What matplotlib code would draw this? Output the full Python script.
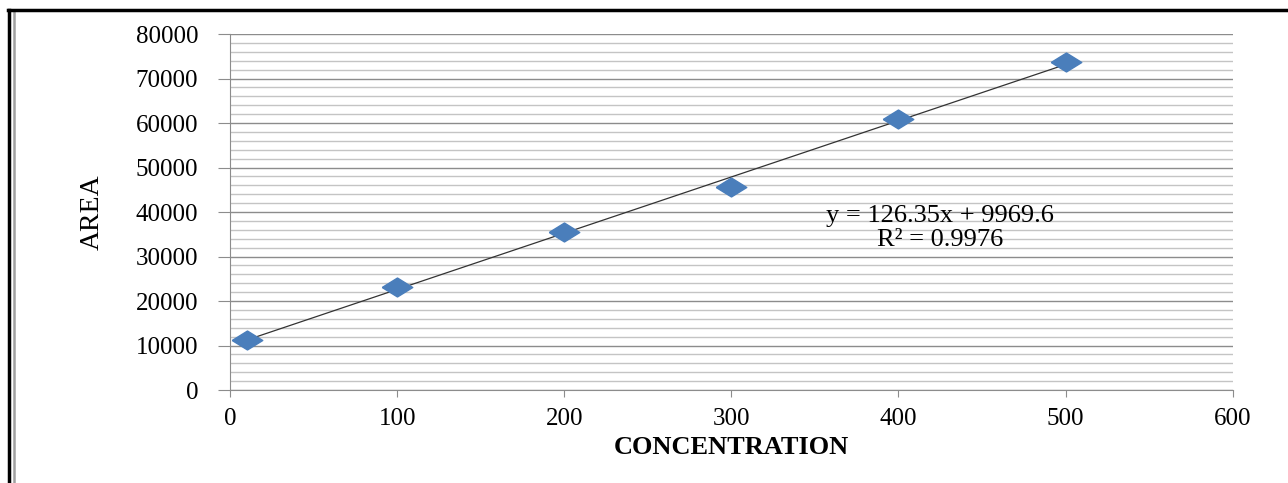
import numpy as np
import matplotlib.pyplot as plt
from matplotlib.lines import Line2D
from matplotlib.ticker import MultipleLocator

# Calibration data
concentration = [10, 100, 200, 300, 400, 500]
area = [11200, 23200, 35600, 45700, 61000, 73600]
slope, intercept = 126.35, 9969.6
equation = "y = 126.35x + 9969.6\nR² = 0.9976"
x_ticks = [0, 100, 200, 300, 400, 500, 600]
y_ticks = [0, 10000, 20000, 30000, 40000, 50000, 60000, 70000, 80000]

plt.rcParams['font.family'] = ['Liberation Serif', 'DejaVu Serif']

fig = plt.figure(figsize=(12.88, 4.83), dpi=100)
ax = fig.add_axes([0.1786, 0.1925, 0.7784, 0.7371])

# trendline
x_fit = np.array([concentration[0], concentration[-1]])
ax.plot(x_fit, slope * x_fit + intercept, color='#333333', lw=0.9, zorder=3)

# wide diamond markers
diamond = [(-1, 0), (0, 0.62), (1, 0), (0, -0.62), (-1, 0)]
ax.plot(concentration, area, linestyle='none', marker=diamond, markersize=22,
        color='#4a7ebb', markeredgecolor='#4a7ebb', zorder=4)

ax.set_xlim(0, 600)
ax.set_ylim(0, 80000)
ax.set_xticks(x_ticks)
ax.set_yticks(y_ticks)
ax.yaxis.set_minor_locator(MultipleLocator(2000))
ax.grid(True, which='major', axis='y', color='#8c8c8c', lw=1.0)
ax.grid(True, which='minor', axis='y', color='#c4c4c4', lw=1.0)
ax.set_axisbelow(True)

for s in ['top', 'right']:
    ax.spines[s].set_visible(False)
for s in ['left', 'bottom']:
    ax.spines[s].set_color('#8c8c8c')
ax.tick_params(axis='y', which='major', length=9, color='#8c8c8c', labelsize=18, pad=14)
ax.tick_params(axis='y', which='minor', length=0)
ax.tick_params(axis='x', length=5, color='#8c8c8c', labelsize=18, pad=8)

ax.set_xlabel('CONCENTRATION', fontsize=19, fontweight='bold', labelpad=4)
ax.set_ylabel('AREA', fontsize=20, labelpad=22)

ax.text(425, 36400, equation, fontsize=19, ha='center', va='center', linespacing=1.15)

# outer frame
fig.add_artist(Line2D([0.0072, 0.0072], [0, 0.98], color='black', lw=2.5, transform=fig.transFigure))
fig.add_artist(Line2D([0.0105, 0.0105], [0, 0.975], color='#a0a0a0', lw=1.8, transform=fig.transFigure))
fig.add_artist(Line2D([0.006, 1.0], [0.979, 0.979], color='black', lw=2.5, transform=fig.transFigure))

fig.savefig('out.png', dpi=100)
